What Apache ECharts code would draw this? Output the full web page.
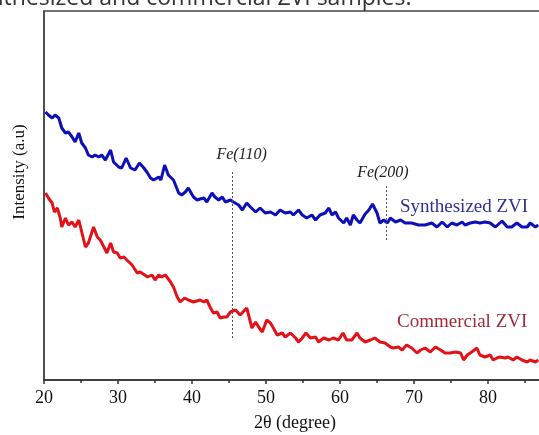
<!DOCTYPE html>
<html>
<head>
<meta charset="utf-8">
<script src="https://cdn.jsdelivr.net/npm/echarts@6/dist/echarts.min.js"></script>
<style>
html, body { margin: 0; padding: 0; background: #fff; }
#chart { width: 539px; height: 435px; }
</style>
</head>
<body>
<div id="chart"></div>
<script>
// 2θ positions (degree) and intensity (a.u.)
var synthX = [20.2,20.6,21.1,21.5,22.0,22.4,22.9,23.3,23.8,24.2,24.7,25.1,25.6,26.0,26.5,26.9,27.4,27.8,28.3,29.0,29.4,30.1,30.5,31.1,31.7,32.3,32.9,33.5,33.9,34.4,34.8,35.5,35.8,36.3,36.8,37.5,38.2,38.6,39.1,39.5,40.2,40.7,41.1,41.6,42.0,42.7,43.1,43.6,44.1,44.5,45.2,45.6,46.3,46.8,47.4,47.9,48.6,49.2,49.9,50.6,51.3,51.9,52.6,53.3,53.7,54.4,54.9,55.5,56.2,56.7,57.3,58.0,58.5,58.9,59.4,59.8,60.5,60.9,61.4,61.8,62.3,62.7,63.4,63.9,64.4,65.0,65.4,65.9,66.4,66.8,67.5,68.2,68.8,69.7,70.6,71.5,72.4,73.1,73.8,74.5,75.1,75.8,76.5,76.9,77.6,78.3,78.9,79.6,80.3,81.0,81.9,82.6,83.2,83.9,84.6,85.3,85.7,86.4,86.8];
var synthY = [268,265,262,265,262,252,247,248,243,238,247,237,232,225,223,225,223,225,220,230,218,213,212,222,212,210,217,212,208,202,200,203,200,215,205,200,187,185,188,192,183,180,181,182,178,187,183,180,183,178,180,178,175,170,177,173,168,172,167,168,165,170,167,168,165,170,165,162,165,160,165,167,172,165,168,162,157,162,155,165,160,157,166,170,176,167,157,160,157,162,158,160,157,157,155,155,157,153,158,153,157,155,158,155,157,158,157,158,157,153,159,153,153,157,153,153,157,153,155];

var commX = [20.2,20.6,21.1,21.4,21.8,22.2,22.4,22.9,23.3,23.8,24.2,24.7,25.1,25.6,26.0,26.7,27.2,27.6,28.1,28.5,29.0,29.4,29.9,30.3,30.8,31.2,31.9,32.6,33.0,33.6,34.0,34.6,35.0,35.5,35.9,36.4,37.1,37.5,38.0,38.4,39.0,39.5,40.2,41.1,41.6,42.0,42.5,42.9,43.4,43.8,44.3,44.7,45.2,45.9,46.5,47.4,48.1,48.6,49.0,49.5,50.1,50.6,51.0,51.5,52.2,52.6,53.3,54.0,54.4,54.9,55.4,56.0,56.7,57.1,57.8,58.5,59.1,59.8,60.4,60.9,61.6,62.3,62.7,63.4,64.1,64.7,65.4,66.1,66.8,67.2,67.9,68.4,69.0,69.7,70.4,70.9,71.5,72.2,72.9,73.6,74.2,74.9,75.6,76.3,76.7,77.2,77.8,78.5,78.9,79.6,80.3,80.7,81.2,81.6,82.3,82.7,83.4,83.9,84.6,85.3,85.7,86.4,86.8];
var commY = [187,182,177,168,172,162,153,162,155,158,153,160,148,133,137,153,143,140,133,127,137,128,127,122,123,120,115,107,108,105,103,105,100,105,103,105,98,93,83,78,82,80,78,80,78,80,72,67,68,62,63,63,68,70,65,72,52,58,53,48,60,57,52,45,47,43,47,42,38,42,47,42,43,38,42,40,42,40,47,40,40,47,42,38,40,42,38,37,33,32,33,30,35,32,27,30,32,28,33,30,27,27,28,27,20,25,28,32,25,23,25,20,22,23,22,23,20,23,20,18,20,18,20];

var xTicks = [20, 90, 10];      // min, max, interval
var yRange = [0, 369];

// peak markers: [2θ, bottom, top]
var peakLines = [[45.4, 42, 209], [66.3, 140, 195]];
// annotations: [2θ, intensity, text, kind]
var notes = [
	[46.7, 225, 'Fe(110)', 'peak'],
	[65.8, 207, 'Fe(200)', 'peak'],
	[68.1, 173, 'Synthesized ZVI', 'synth'],
	[67.7, 58, 'Commercial ZVI', 'comm']
];

function pairs(xs, ys) {
	var out = [];
	for (var i = 0; i < xs.length; i++) out.push([xs[i], ys[i]]);
	return out;
}

var serif = 'Liberation Serif, Times New Roman, serif';
var chart = echarts.init(document.getElementById('chart'));

var markLineData = peakLines.map(function (p) {
	return [{ coord: [p[0], p[1]] }, { coord: [p[0], p[2]] }];
});

var option = {
	animation: false,
	grid: {
		left: 44,
		top: 11,
		height: 369,
		width: 518,   // plot runs past the right edge of the picture
		outerBoundsMode: 'none',
		show: true,
		borderColor: '#444',
		borderWidth: 1.5,
		backgroundColor: 'transparent'
	},
	xAxis: {
		type: 'value',
		min: xTicks[0],
		max: xTicks[1],
		interval: xTicks[2],
		axisLine: { show: true, lineStyle: { color: '#333', width: 1.5 } },
		axisTick: { show: true, inside: false, length: 4, lineStyle: { color: '#333', width: 1.5 } },
		minorTick: { show: true, splitNumber: 2, length: 3, lineStyle: { color: '#333', width: 1.5 } },
		splitLine: { show: false },
		axisLabel: { color: '#111', fontFamily: serif, fontSize: 18, margin: 9 }
	},
	yAxis: {
		type: 'value',
		min: yRange[0],
		max: yRange[1],
		axisLine: { show: true, lineStyle: { color: '#444', width: 1.5 } },
		axisTick: { show: false },
		axisLabel: { show: false },
		splitLine: { show: false }
	},
	series: [{
		name: 'Synthesized ZVI',
		type: 'line',
		data: pairs(synthX, synthY),
		showSymbol: false,
		symbol: 'none',
		lineStyle: { color: '#0d0fb8', width: 3 },
		markLine: {
			silent: true,
			symbol: 'none',
			label: { show: false },
			lineStyle: { color: '#555', width: 1, type: [2, 2] },
			data: markLineData
		}
	}, {
		name: 'Commercial ZVI',
		type: 'line',
		data: pairs(commX, commY),
		showSymbol: false,
		symbol: 'none',
		lineStyle: { color: '#e31218', width: 3 }
	}],
	graphic: []
};
chart.setOption(option);

// place annotations from data coordinates
var graphics = [{
	type: 'text', x: -33, y: 10,
	style: { text: 'synthesized and commercial ZVI samples.', fontFamily: 'Open Sans, sans-serif', fontSize: 23, fill: '#333', verticalAlign: 'bottom' }
}, {
	type: 'text', x: 20, y: 172, rotation: Math.PI / 2,
	style: { text: 'Intensity (a.u)', fontFamily: serif, fontSize: 17, fill: '#111', align: 'center', verticalAlign: 'middle' }
}, {
	type: 'text', x: 295, y: 423,
	style: { text: '2θ (degree)', fontFamily: serif, fontSize: 18, fill: '#111', align: 'center', verticalAlign: 'middle' }
}];
notes.forEach(function (n) {
	var pt = chart.convertToPixel({ gridIndex: 0 }, [n[0], n[1]]);
	var st = { text: n[2], fontFamily: serif, verticalAlign: 'middle' };
	if (n[3] === 'peak') {
		st.fontSize = 16; st.fontStyle = 'italic'; st.fill = '#222'; st.align = 'center';
	} else if (n[3] === 'synth') {
		st.fontSize = 19; st.fill = '#2e3192'; st.align = 'left';
	} else {
		st.fontSize = 19; st.fill = '#9e2a3a'; st.align = 'left';
	}
	graphics.push({ type: 'text', x: pt[0], y: pt[1], style: st });
});
chart.setOption({ graphic: graphics });
</script>
</body>
</html>
